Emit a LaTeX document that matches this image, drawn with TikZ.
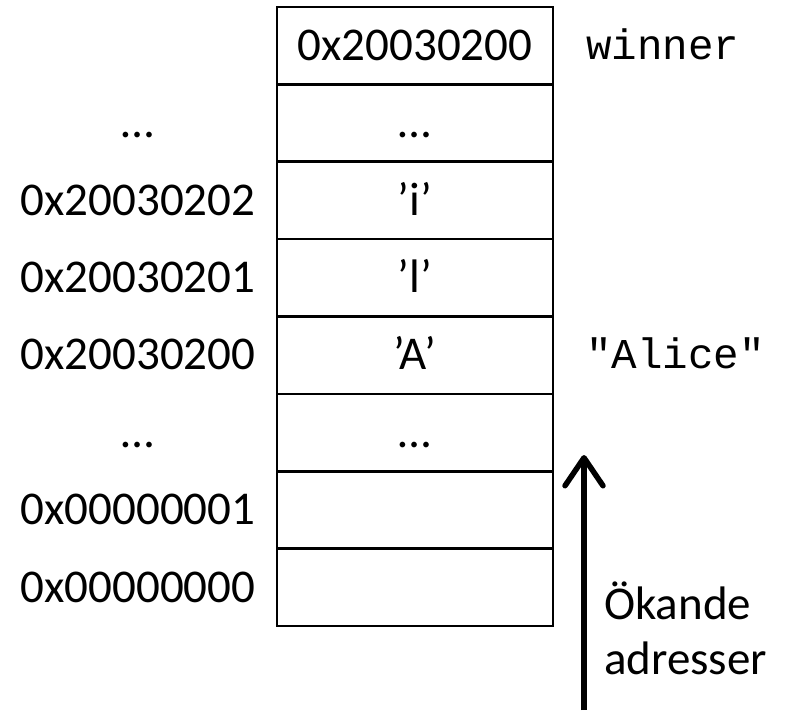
\documentclass[tikz,border=0pt]{standalone}
\usepackage{fontspec}
\setmainfont{Carlito}
\newfontfamily\monofont{Liberation Mono}
\usetikzlibrary{arrows.meta}
\begin{document}
\begin{tikzpicture}[x=1pt,y=-1pt,
  cell/.style={draw,line width=2.6pt,minimum width=276pt,minimum height=77.4pt,inner sep=0pt,
    font=\fontsize{47}{56}\selectfont,text height=29.6pt,text depth=0pt},
  addr/.style={inner sep=0pt,font=\fontsize{47}{56}\selectfont,text height=29.6pt,text depth=0pt},
  code/.style={inner sep=0pt,anchor=west,font=\monofont\fontsize{42.5}{50}\selectfont,text height=27pt,text depth=0pt},
  txt/.style={inner sep=0pt,anchor=north west,align=left,font=\fontsize{47}{55}\selectfont}]
\useasboundingbox[fill=white] (0,0) rectangle (792,710);
% cells
\node[cell] (c1) at (415,45.5) {0x20030200};
\node[cell] (c2) at (415,122.9) {…};
\node[cell] (c3) at (415,200.3) {’i’};
\node[cell] (c4) at (415,277.7) {’l’};
\node[cell] (c5) at (415,355.1) {’A’};
\node[cell] (c6) at (415,432.5) {…};
\node[cell] (c7) at (415,509.9) {};
\node[cell] (c8) at (415,587.3) {};
% address labels
\node[addr] (a2) at (138,122.9) {…};
\node[addr] (a3) at (138,200.3) {0x20030202};
\node[addr] (a4) at (138,277.7) {0x20030201};
\node[addr] (a5) at (138,355.1) {0x20030200};
\node[addr] (a6) at (138,432.5) {…};
\node[addr] (a7) at (138,509.9) {0x00000001};
\node[addr] (a8) at (138,587.3) {0x00000000};
% variable names
\node[code] (w) at (586,45.5) {winner};
\node[code] (al) at (586,355.1) {"Alice"};
% arrow
\coordinate (ab) at (584,710);
\coordinate (at) at (584,455);
\draw[line width=5.5pt,-{Straight Barb[round,length=28pt,width=38pt]}] (ab) -- (at);
\node[txt] (ok) at (604,582) {Ökande\\adresser};
\end{tikzpicture}
\end{document}
